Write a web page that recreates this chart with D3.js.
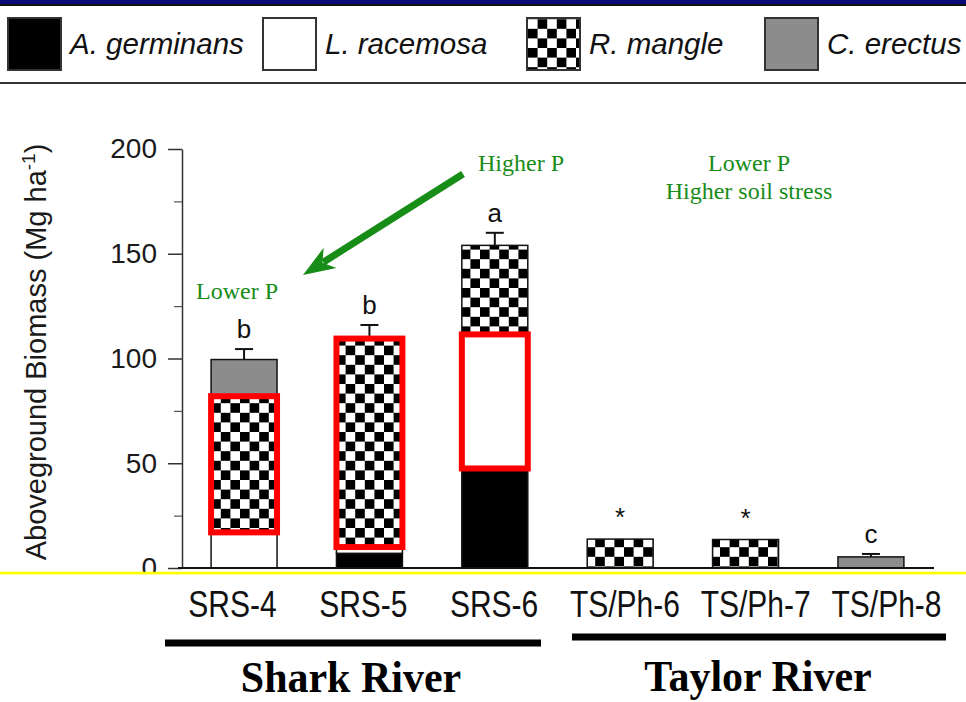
<!DOCTYPE html>
<html>
<head>
<meta charset="utf-8">
<script src="https://cdn.jsdelivr.net/npm/d3@7"></script>
<style>
  body { margin: 0; background: #fff; }
  svg { display: block; }
</style>
</head>
<body>
<svg id="chart" width="966" height="702"></svg>
<script>
// Sites along the two rivers
const sites = ["SRS-4", "SRS-5", "SRS-6", "TS/Ph-6", "TS/Ph-7", "TS/Ph-8"];
const species = ["A. germinans", "L. racemosa", "R. mangle", "C. erectus"];

// Aboveground biomass per species (Mg ha-1), stacked bottom to top
const germinans = [0, 7, 47.5, 0, 0, 0];
const racemosa  = [17, 3, 64, 0, 0, 0];
const mangle    = [65, 99.5, 42.5, 13.8, 13.6, 0];
const erectus   = [17.5, 0, 0, 0, 0, 5.3];

// Standard error of the total, and significance letters
const errors  = [5, 6.5, 6, null, null, 1.4];
const letters = ["b", "b", "a", "*", "*", "c"];

// Species segments outlined in red
const highlightSite    = ["SRS-4", "SRS-5", "SRS-6"];
const highlightSpecies = ["R. mangle", "R. mangle", "L. racemosa"];

const yTicks = [0, 50, 100, 150, 200];
const yMinor = [25, 75, 125, 175];

const groups = ["Shark River", "Taylor River"];

const W = 966, H = 702;
const SANS = "'Liberation Sans', Arial, sans-serif";
const SERIF = "'Liberation Serif', 'Times New Roman', serif";
const GREEN = "#178c17";

const svg = d3.select("#chart");
const defs = svg.append("defs");

// checkerboard fill for R. mangle
const cell = 9.6;
const pat = defs.append("pattern")
  .attr("id", "checker")
  .attr("patternUnits", "userSpaceOnUse")
  .attr("width", cell * 2).attr("height", cell * 2);
pat.append("rect").attr("width", cell * 2).attr("height", cell * 2).attr("fill", "#fff");
pat.append("rect").attr("width", cell).attr("height", cell).attr("fill", "#000");
pat.append("rect").attr("x", cell).attr("y", cell).attr("width", cell).attr("height", cell).attr("fill", "#000");

const fills = {
  "A. germinans": "#000",
  "L. racemosa": "#fff",
  "R. mangle": "url(#checker)",
  "C. erectus": "#8c8c8c"
};

// background and slide frame
svg.append("rect").attr("width", W).attr("height", H).attr("fill", "#fff");
svg.append("rect").attr("width", W).attr("height", 4).attr("fill", "#0a0a78");
svg.append("rect").attr("y", 4).attr("width", W).attr("height", 2).attr("fill", "#111");
svg.append("rect").attr("y", 82).attr("width", W).attr("height", 2).attr("fill", "#333");

// legend
const legendX = [8, 263, 527, 765];
const legend = svg.append("g");
species.forEach((sp, i) => {
  legend.append("rect")
    .attr("x", legendX[i]).attr("y", 18)
    .attr("width", 53).attr("height", 52)
    .attr("fill", fills[sp])
    .attr("stroke", "#333").attr("stroke-width", 2);
  legend.append("text")
    .attr("x", legendX[i] + 62).attr("y", 54)
    .attr("font-family", SANS).attr("font-style", "italic")
    .attr("font-size", 29.5).attr("fill", "#111")
    .text(sp);
});

// scales
const x = d3.scaleBand().domain(sites).range([181, 934])
  .paddingInner(0.474).paddingOuter(0.24);
const y = d3.scaleLinear().domain([0, 200]).range([568, 149]);
const labelX = d3.scalePoint().domain(sites).range([232, 886]);

// stacked data
const table = sites.map((s, i) => ({
  site: s,
  "A. germinans": germinans[i],
  "L. racemosa": racemosa[i],
  "R. mangle": mangle[i],
  "C. erectus": erectus[i]
}));
const series = d3.stack().keys(species)(table);

// y axis
const yAxis = svg.append("g").attr("transform", "translate(182,0)")
  .call(d3.axisLeft(y).tickValues(yTicks).tickSize(14).tickSizeOuter(0)
    .tickPadding(11).tickFormat(d3.format("d")));
yAxis.select(".domain").attr("stroke", "#333").attr("stroke-width", 1.5);
yAxis.selectAll(".tick line").attr("stroke", "#333").attr("stroke-width", 1.5);
yAxis.selectAll("text").attr("font-family", SANS).attr("font-size", 28).attr("fill", "#1a1a1a");

const yMinorAxis = svg.append("g").attr("transform", "translate(182,0)")
  .call(d3.axisLeft(y).tickValues(yMinor).tickSize(8).tickFormat(""));
yMinorAxis.select(".domain").remove();
yMinorAxis.selectAll(".tick line").attr("stroke", "#555").attr("stroke-width", 1.2);

// y axis title
const yTitle = svg.append("text")
  .attr("transform", "translate(46,352) rotate(-90)")
  .attr("text-anchor", "middle")
  .attr("font-family", SANS).attr("font-size", 29).attr("fill", "#1a1a1a");
yTitle.append("tspan").text("Aboveground Biomass (Mg ha");
yTitle.append("tspan").attr("font-size", 19).attr("dy", -11).text("-1");
yTitle.append("tspan").attr("dy", 11).text(")");

// bars
const barG = svg.append("g");
series.forEach(s => {
  barG.selectAll(null)
    .data(s.filter(d => d[1] - d[0] > 0))
    .join("rect")
    .attr("x", d => x(d.data.site))
    .attr("width", x.bandwidth())
    .attr("y", d => y(d[1]))
    .attr("height", d => y(d[0]) - y(d[1]))
    .attr("fill", fills[s.key])
    .attr("stroke", "#111").attr("stroke-width", 1.5);
});

// totals
const totals = sites.map((s, i) => germinans[i] + racemosa[i] + mangle[i] + erectus[i]);

// error bars
const errG = svg.append("g").attr("stroke", "#111").attr("stroke-width", 2);
sites.forEach((s, i) => {
  if (errors[i] == null) return;
  const cx = x(s) + x.bandwidth() / 2;
  errG.append("line").attr("x1", cx).attr("x2", cx)
    .attr("y1", y(totals[i])).attr("y2", y(totals[i] + errors[i]));
  errG.append("line").attr("x1", cx - 9).attr("x2", cx + 9)
    .attr("y1", y(totals[i] + errors[i])).attr("y2", y(totals[i] + errors[i]));
});

// significance letters
svg.append("g").selectAll("text")
  .data(sites)
  .join("text")
  .attr("x", d => x(d) + x.bandwidth() / 2)
  .attr("y", (d, i) => y(totals[i] + (errors[i] || 0)) - (errors[i] == null ? 13 : 11))
  .attr("text-anchor", "middle")
  .attr("font-family", SANS).attr("font-size", 26).attr("fill", "#111")
  .text((d, i) => letters[i]);

// red outlines around highlighted segments
highlightSite.forEach((site, k) => {
  const s = series.find(ser => ser.key === highlightSpecies[k]);
  const d = s[sites.indexOf(site)];
  svg.append("rect")
    .attr("x", x(site)).attr("width", x.bandwidth())
    .attr("y", y(d[1])).attr("height", y(d[0]) - y(d[1]))
    .attr("fill", "none").attr("stroke", "#ff0000").attr("stroke-width", 6);
});

// baseline
svg.append("line").attr("x1", 178).attr("x2", 934)
  .attr("y1", y(0)).attr("y2", y(0))
  .attr("stroke", "#111").attr("stroke-width", 2);

// annotations
const ann = svg.append("g").attr("font-family", SERIF).attr("font-size", 24).attr("fill", GREEN);
ann.append("text").attr("x", 478).attr("y", 171).text("Higher P");
ann.append("text").attr("x", 196).attr("y", 299).text("Lower P");
ann.append("text").attr("x", 749).attr("y", 171).attr("text-anchor", "middle").text("Lower P");
ann.append("text").attr("x", 749).attr("y", 199).attr("text-anchor", "middle").text("Higher soil stress");

// arrow from "Higher P" toward "Lower P"
const a0 = [463, 174], tip = [303, 275];
const dx = tip[0] - a0[0], dy = tip[1] - a0[1];
const len = Math.hypot(dx, dy), ux = dx / len, uy = dy / len;
const headL = 28, headW = 12;
const base = [tip[0] - ux * headL, tip[1] - uy * headL];
svg.append("line")
  .attr("x1", a0[0]).attr("y1", a0[1])
  .attr("x2", base[0] + ux * 4).attr("y2", base[1] + uy * 4)
  .attr("stroke", GREEN).attr("stroke-width", 7);
svg.append("path")
  .attr("d", d3.line()([
    tip,
    [base[0] - uy * headW - ux * 4, base[1] + ux * headW - uy * 4],
    [base[0] + ux * 5, base[1] + uy * 5],
    [base[0] + uy * headW - ux * 4, base[1] - ux * headW - uy * 4]
  ]) + "Z")
  .attr("fill", GREEN);

// lower panel covers the foot of the plot, with a yellow rule on top
svg.append("rect").attr("x", 0).attr("y", 574).attr("width", W).attr("height", H - 574).attr("fill", "#fff");
svg.append("rect").attr("x", 0).attr("y", 571.8).attr("width", W).attr("height", 2.6).attr("fill", "#ffff00");

// site labels (slightly tall, narrow lettering)
const xAxis = svg.append("g").attr("transform", "translate(0,591)")
  .call(d3.axisBottom(labelX).tickSize(0).tickPadding(0));
xAxis.select(".domain").remove();
xAxis.selectAll("text")
  .attr("font-family", SANS).attr("font-size", 30).attr("fill", "#111")
  .attr("transform", "scale(1,1.22)");

// river groupings
const groupLines = [[165, 541, 643], [572, 946, 637]];
const groupCenter = [351, 758];
const groupBase = [692, 691];
groups.forEach((g, i) => {
  svg.append("line")
    .attr("x1", groupLines[i][0]).attr("x2", groupLines[i][1])
    .attr("y1", groupLines[i][2]).attr("y2", groupLines[i][2])
    .attr("stroke", "#000").attr("stroke-width", 7);
  svg.append("text")
    .attr("transform", `translate(${groupCenter[i]},${groupBase[i]}) scale(1.05,1.1)`)
    .attr("text-anchor", "middle")
    .attr("font-family", SERIF).attr("font-weight", "bold")
    .attr("font-size", 40).attr("fill", "#000")
    .text(g);
});
</script>
</body>
</html>
